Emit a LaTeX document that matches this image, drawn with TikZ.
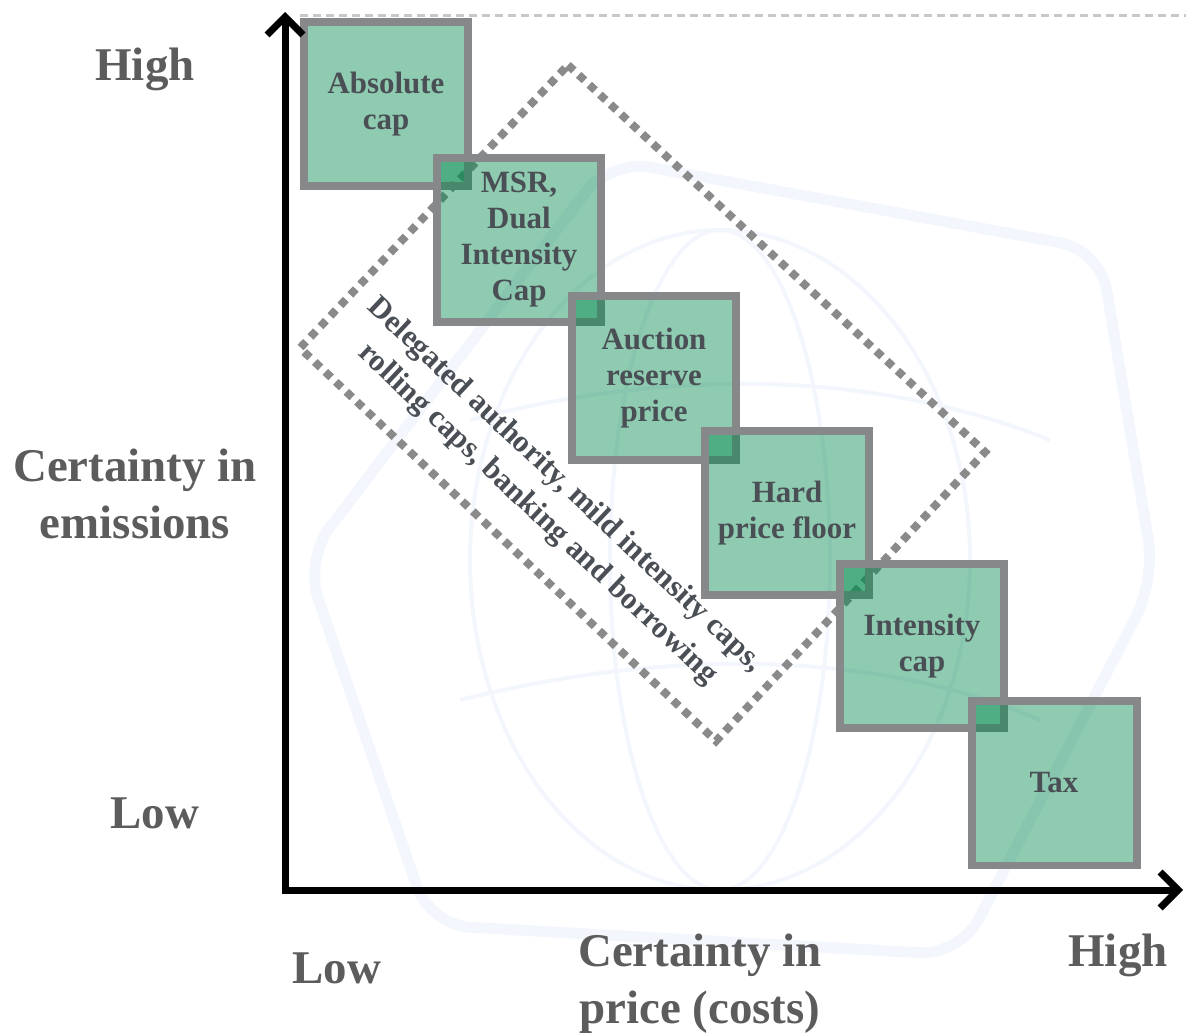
\documentclass[tikz,border=0pt]{standalone}
\usepackage{fontspec}
\setmainfont{Liberation Serif}
\usetikzlibrary{arrows.meta}
\definecolor{boxgreen}{RGB}{0,137,77}
\definecolor{boxline}{RGB}{134,136,138}
\definecolor{dotgray}{RGB}{138,138,138}
\definecolor{labelgray}{RGB}{92,92,92}
\definecolor{textgray}{RGB}{74,79,85}
\definecolor{guidegray}{RGB}{200,200,200}
\definecolor{faintblue}{RGB}{243,246,252}
\begin{document}
\begin{tikzpicture}[x=0.02cm,y=-0.02cm,
  policy/.style={draw=boxline, line width=0.16cm, fill=boxgreen, fill opacity=0.443,
    text opacity=1, text=textgray, minimum size=3.3cm, inner sep=0pt, align=center,
    font=\fontsize{17.6}{20.5}\selectfont\bfseries},
  axislabel/.style={text=labelgray, align=center, font=\fontsize{26.7}{32.3}\selectfont\bfseries}]
\useasboundingbox (0,0) rectangle (1186,1035);

% faint sketch in the background
\draw[faintblue, line width=0.22cm, rounded corners=0.8cm]
  (610,160) -- (1100,250) -- (1155,580) -- (960,955) -- (430,925) -- (305,560) -- cycle;
\draw[faintblue, line width=0.08cm] (720,560) ellipse (250 and 330);
\draw[faintblue, line width=0.08cm] (720,560) ellipse (110 and 330);
\draw[faintblue, line width=0.08cm] (470,420) .. controls (700,360) and (900,380) .. (1050,440);
\draw[faintblue, line width=0.08cm] (460,700) .. controls (700,640) and (900,660) .. (1040,720);

% guide line at the top
\coordinate (g1) at (300,15);
\coordinate (g2) at (1186,15);
\draw[guidegray, line width=0.06cm, dash pattern=on 0.16cm off 0.1cm] (g1) -- (g2);

% dotted region
\coordinate (t) at (568,65);
\coordinate (r) at (985,452);
\coordinate (b) at (716,741);
\coordinate (l) at (300,348);
\draw[dotgray, line width=0.16cm, dash pattern=on 0.16cm off 0.13cm] (t) -- (r) -- (b) -- (l) -- cycle;
\node[rotate=-43.3, text=textgray, align=center, font=\fontsize{17.6}{22.7}\selectfont\bfseries] (d) at (551,500)
  {Delegated authority, mild intensity caps,\\rolling caps, banking and borrowing};

% policy boxes
\node[policy] (1) at (386,104) {Absolute\\cap};
\node[policy] (2) at (519,240) {MSR,\\Dual\\Intensity\\Cap};
\node[policy] (3) at (654,378) {Auction\\reserve\\price};
\node[policy] (4) at (787,513) {Hard\\price floor};
\node[policy] (5) at (922,646) {Intensity\\cap};
\node[policy] (6) at (1054,783) {Tax};

% axes
\coordinate (o) at (285,890);
\coordinate (ytop) at (285,12);
\coordinate (xend) at (1183,890);
\path[draw, line width=0.14cm, line join=miter,
  {Straight Barb[length=0.36cm,width=0.72cm]}-{Straight Barb[length=0.36cm,width=0.72cm]}]
  (ytop) -- (o) -- (xend);

\node[axislabel] (yhigh) at (145,69) {High};
\node[axislabel] (ylab) at (135,494) {Certainty in\\emissions};
\node[axislabel] (ylow) at (155,813) {Low};
\node[axislabel] (xlow) at (337,968) {Low};
\node[axislabel] (xlab) at (700,984) {Certainty in\\price (costs)};
\node[axislabel] (xhigh) at (1118,955) {High};
\end{tikzpicture}
\end{document}
